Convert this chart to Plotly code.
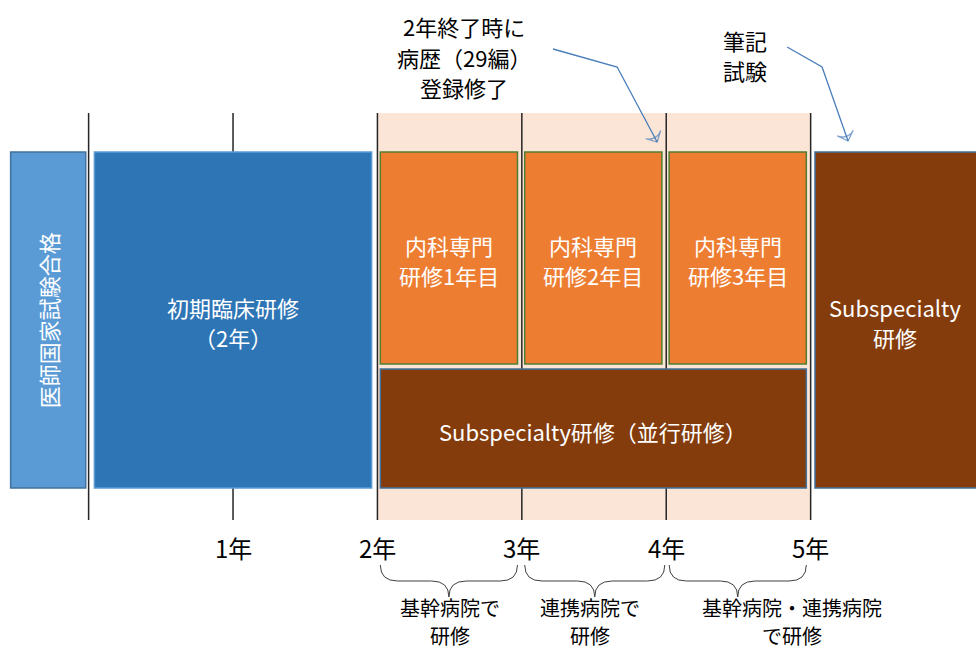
import plotly.graph_objects as go

# ---- data ----
grid_years = [0, 1, 2, 3, 4, 5]
tick_years = [1, 2, 3, 4, 5]
tick_labels = ["1年", "2年", "3年", "4年", "5年"]

block_names = [["医師国家試験合格"], ["初期臨床研修", "（2年）"], ["内科専門", "研修1年目"], ["内科専門", "研修2年目"],
               ["内科専門", "研修3年目"], ["Subspecialty研修（並行研修）"], ["Subspecialty", "研修"]]
block_start = [-0.54, 0.04, 2.02, 3.02, 4.02, 2.02, 5.03]
block_end = [-0.02, 1.96, 2.97, 3.97, 4.97, 4.97, 6.5]

brace_start = [2.02, 3.02, 4.02]
brace_end = [2.97, 3.99, 4.97]
brace_labels = [["基幹病院で", "研修"], ["連携病院で", "研修"], ["基幹病院・連携病院", "で研修"]]
brace_label_x = [2.5, 3.47, 4.87]

band_start, band_end = 2, 5

note1_lines = ["2年終了時に", "病歴（29編）", "登録修了"]
note1_x = 2.60
note1_path_x = [3.216, 3.66, 3.937]
note1_path_y = [49, 67, 142]
note2_lines = ["筆記", "試験"]
note2_x = 4.546
note2_path_x = [4.837, 5.079, 5.259]
note2_path_y = [47, 67, 141]

# ---- styles ----
FONT = "Noto Sans CJK JP"
block_fill = ["#5B9BD5", "#2E75B6", "#ED7D31", "#ED7D31", "#ED7D31", "#843C0C", "#843C0C"]
block_line = ["#41719C", "#5B9BD5", "#507E32", "#507E32", "#507E32", "#41719C", "#41719C"]
block_top = [152, 152, 152, 152, 152, 369, 152]
block_bot = [488, 488, 364, 364, 364, 488, 488]
text_y = [[320], [307, 337], [245, 275], [245, 275], [245, 275], [431], [307, 337]]
text_angle = [-90, 0, 0, 0, 0, 0, 0]

fig = go.Figure()
shapes = []
annotations = []

# shaded band
shapes.append(dict(type="rect", x0=band_start, x1=band_end, y0=113, y1=520,
                   fillcolor="#FBE5D6", line=dict(width=0), layer="below"))
# vertical year lines
for g in grid_years:
    shapes.append(dict(type="line", x0=g, x1=g, y0=113, y1=520,
                       line=dict(color="#262626", width=1.5), layer="below"))
# blocks
for i, lines in enumerate(block_names):
    shapes.append(dict(type="rect", x0=block_start[i], x1=block_end[i], y0=block_top[i], y1=block_bot[i],
                       fillcolor=block_fill[i], line=dict(color=block_line[i], width=1.5), layer="below"))
    vis_end = min(block_end[i], 6.145)
    for line, ly in zip(lines, text_y[i]):
        annotations.append(dict(x=(block_start[i] + vis_end) / 2, y=ly, text=line, showarrow=False,
                                borderpad=0, textangle=text_angle[i],
                                font=dict(family=FONT, size=22, color="white")))

# year tick labels
for ty, tl in zip(tick_years, tick_labels):
    annotations.append(dict(x=ty, y=547, text=tl, showarrow=False,
                            font=dict(family=FONT, size=24, color="black")))

# braces
for b0, b1, lab, lx in zip(brace_start, brace_end, brace_labels, brace_label_x):
    m = (b0 + b1) / 2
    d = 0.12
    path = (f"M {b0},565 Q {b0},581 {b0+d},581 L {m-d},581 Q {m},581 {m},597 "
            f"Q {m},581 {m+d},581 L {b1-d},581 Q {b1},581 {b1},565")
    shapes.append(dict(type="path", path=path, line=dict(color="#404040", width=1), layer="below"))
    for line, ly in zip(lab, [607, 635]):
        annotations.append(dict(x=lx, y=ly, text=line, showarrow=False, borderpad=0,
                                font=dict(family=FONT, size=20, color="black")))

# notes
for line, ly in zip(note1_lines, [26, 57, 87]):
    annotations.append(dict(x=note1_x, y=ly, text=line, showarrow=False, borderpad=0,
                            font=dict(family=FONT, size=22, color="black")))
for line, ly in zip(note2_lines, [40, 70]):
    annotations.append(dict(x=note2_x, y=ly, text=line, showarrow=False, borderpad=0,
                            font=dict(family=FONT, size=22, color="black")))

for px, py in [(note1_path_x, note1_path_y), (note2_path_x, note2_path_y)]:
    fig.add_trace(go.Scatter(x=px, y=py, mode="lines+markers", hoverinfo="skip",
                             line=dict(color="#4A7EBB", width=1.3),
                             marker=dict(symbol="arrow-wide-open", size=[0, 0, 12], angleref="previous",
                                         color="#4A7EBB", line=dict(color="#4A7EBB", width=1.3)),
                             showlegend=False))

fig.update_layout(
    width=976, height=650, margin=dict(l=0, r=0, t=0, b=0),
    paper_bgcolor="white", plot_bgcolor="white",
    xaxis=dict(range=[-0.6136, 6.145], visible=False, fixedrange=True),
    yaxis=dict(range=[650, 0], visible=False, fixedrange=True),
    shapes=shapes, annotations=annotations, showlegend=False,
)
fig.write_html("out.html", config={"displayModeBar": False},
               post_script="document.body.style.margin='0';document.body.style.overflow='hidden';")
